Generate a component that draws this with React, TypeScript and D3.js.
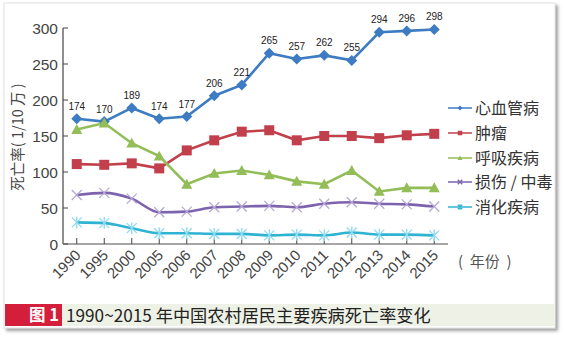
import React from "react";
import * as d3 from "d3";

const years = ["1990","1995","2000","2005","2006","2007","2008","2009","2010","2011","2012","2013","2014","2015"];
const cardio = [174,170,189,174,177,206,221,265,257,262,255,294,296,298];
const tumor = [111,110,112,105,130,144,156,158,144,150,150,147,151,153];
const resp = [159,168,140,122,83,98,102,96,87,83,102,73,78,78];
const injury = [68,71,63,44,45,51,52,53,51,56,58,56,55,52];
const digest = [30,29,22,15,15,14,14,12,13,12,16,13,13,12];
const yTicks = [0,50,100,150,200,250,300];

const seriesNames = ["心血管病","肿瘤","呼吸疾病","损伤 / 中毒","消化疾病"];
const seriesColors = ["#3d7cc2","#c1404c","#92bd57","#7d62ad","#2fb3d3"];
const markerColors = ["#3d7cc2","#c1404c","#92bd57","#b6a8d8","#8fdaf0"];
const seriesData = [cardio, tumor, resp, injury, digest];
const markerTypes = ["diamond","square","triangle","x","star"];

function Marker({ type, x, y, color, s = 1 }: { type: string; x: number; y: number; color: string; s?: number }) {
  if (type === "diamond") {
    const r = 5.5 * s;
    return <path d={`M${x},${y - r}L${x + r},${y}L${x},${y + r}L${x - r},${y}Z`} fill={color} />;
  }
  if (type === "square") {
    const r = 5 * s;
    return <rect x={x - r} y={y - r} width={2 * r} height={2 * r} fill={color} />;
  }
  if (type === "triangle") {
    const r = 5.5 * s;
    return <path d={`M${x},${y - r}L${x + r},${y + r * 0.8}L${x - r},${y + r * 0.8}Z`} fill={color} />;
  }
  if (type === "x") {
    const r = 5 * s;
    return <path d={`M${x - r},${y - r}L${x + r},${y + r}M${x + r},${y - r}L${x - r},${y + r}`} stroke={color} strokeWidth={1.3} />;
  }
  const r = 5 * s;
  return <path d={`M${x - r},${y - r}L${x + r},${y + r}M${x + r},${y - r}L${x - r},${y + r}M${x},${y - r * 1.2}L${x},${y + r * 1.2}`} stroke={color} strokeWidth={1.3} />;
}

export default function App() {
  const W = 565, H = 338;
  const left = 63, right = 448, top = 28, bottom = 244;
  const x = d3.scaleBand<string>().domain(years).range([left, right]).paddingInner(0).paddingOuter(0);
  const cx = (yr: string) => (x(yr) as number) + x.bandwidth() / 2;
  const y = d3.scaleLinear().domain([0, 300]).range([bottom, top]);
  const lineLin = d3.line<number>().x((_, i) => cx(years[i])).y((v) => y(v));
  const lineSmooth = d3.line<number>().x((_, i) => cx(years[i])).y((v) => y(v)).curve(d3.curveMonotoneX);
  const font = "'Liberation Sans', Arial, sans-serif";
  const cjk = "'Noto Sans CJK SC', 'Liberation Sans', sans-serif";
  const legendY = [108, 133, 158, 182, 207];

  return (
    <svg width={W} height={H} style={{ position: "absolute", left: 0, top: 0, background: "#fff" }}>
      <defs>
        <filter id="sh" x="-5%" y="-5%" width="110%" height="110%">
          <feDropShadow dx="2.5" dy="2.5" stdDeviation="1.8" floodColor="#777" floodOpacity="0.7" />
        </filter>
      </defs>
      <rect x={4} y={3} width={551} height={325} fill="#fff" stroke="#e2e2e2" filter="url(#sh)" />
      {/* caption bar */}
      <rect x={5} y={304} width={549} height={22} fill="#eef2e6" />
      <rect x={5} y={304} width={57} height={22} fill="#d31f3c" />
      <text x={29} y={321} fill="#fff" fontFamily={cjk} fontWeight="bold" fontSize={16.5}>图 1</text>
      <text x={66} y={321.5} fill="#222" fontFamily={cjk} fontSize={17.2}>1990~2015 年中国农村居民主要疾病死亡率变化</text>

      {/* axes */}
      <line x1={left} x2={left} y1={top} y2={bottom} stroke="#444" strokeWidth={1.2} />
      <line x1={left} x2={right} y1={bottom} y2={bottom} stroke="#888" strokeWidth={1.5} />
      {yTicks.map((t) => (
        <g key={t}>
          <line x1={left} x2={left + 5} y1={y(t)} y2={y(t)} stroke="#444" />
          <text x={left - 5} y={y(t) + 5.5} textAnchor="end" fontFamily={font} fontSize={15.5} fill="#444">{t}</text>
        </g>
      ))}
      {years.map((yr) => (
        <g key={yr}>
          <line x1={cx(yr)} x2={cx(yr)} y1={bottom} y2={bottom - 6} stroke="#444" />
          <text transform={`translate(${cx(yr) + 5},${bottom + 12}) rotate(-45)`} textAnchor="end" fontFamily={font} fontSize={15} fill="#444">{yr}</text>
        </g>
      ))}
      <text transform={`translate(23,${137}) rotate(-90)`} textAnchor="middle" fontFamily={cjk} fontSize={14.5} fill="#444">死亡率( 1/10 万 )</text>
      <text x={458} y={267} fontFamily={cjk} fontSize={15} fill="#555" xmlSpace="preserve">(  年份  )</text>

      {/* series */}
      {seriesData.map((data, si) => (
        <g key={si}>
          <path d={(si >= 3 ? lineSmooth : lineLin)(data) as string} fill="none" stroke={seriesColors[si]} strokeWidth={2.6} />
          {data.map((v, i) => (
            <Marker key={i} type={markerTypes[si]} x={cx(years[i])} y={y(v)} color={si >= 3 ? markerColors[si] : seriesColors[si]} />
          ))}
        </g>
      ))}
      {cardio.map((v, i) => (
        <text key={i} x={cx(years[i])} y={y(v) - 9} textAnchor="middle" fontFamily={font} fontSize={10} fill="#222">{v}</text>
      ))}

      {/* legend */}
      {seriesNames.map((n, i) => (
        <g key={n}>
          <line x1={448} x2={472} y1={legendY[i]} y2={legendY[i]} stroke={seriesColors[i]} strokeWidth={1.5} />
          <Marker type={markerTypes[i]} x={460} y={legendY[i]} color={seriesColors[i]} s={0.45} />
          <text x={475} y={legendY[i] + 6} fontFamily={cjk} fontSize={16} fill="#333">{n}</text>
        </g>
      ))}
    </svg>
  );
}
